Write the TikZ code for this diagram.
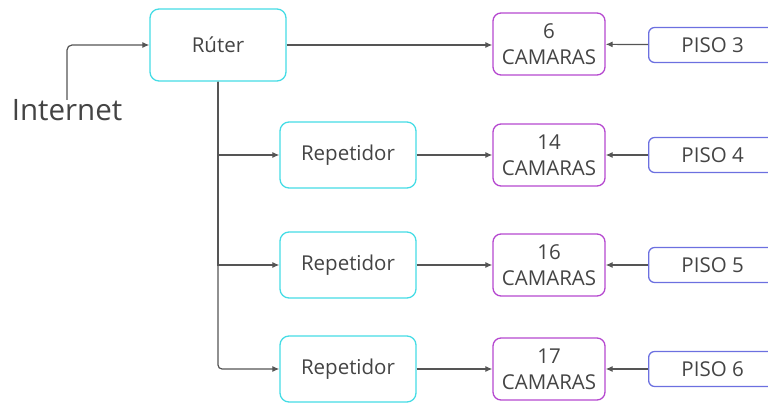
\documentclass[tikz,border=0pt]{standalone}
\usepackage{fontspec}
\setmainfont{Open Sans}
\usetikzlibrary{arrows.meta}
\definecolor{redcian}{HTML}{45DCE5}
\definecolor{cammorado}{HTML}{B548CF}
\definecolor{pisoazul}{HTML}{6C70E0}
\definecolor{linea}{HTML}{555555}
\definecolor{texto}{HTML}{444444}
\tikzset{
  caja/.style={draw, rounded corners=9pt, line width=1.3pt, text=texto,
    font=\fontsize{20.5}{26}\selectfont, align=center, inner sep=0pt},
  redbox/.style={caja, draw=redcian},
  cambox/.style={caja, draw=cammorado, rounded corners=8pt, minimum width=112pt, minimum height=62pt},
  pisobox/.style={caja, draw=pisoazul, rounded corners=6pt, minimum width=140pt, minimum height=35pt},
  flecha/.style={draw=linea, line width=1.2pt, -{Latex[length=7pt,width=6pt]}},
}
\begin{document}
\begin{tikzpicture}[x=1pt,y=-1pt]
\useasboundingbox (0,0) rectangle (768,403);
\clip (0,0) rectangle (768,403);

\node[text=texto, font=\fontsize{29.5}{31}\selectfont] (inet) at (67,110) {Internet};
\node[redbox, minimum width=136pt, minimum height=72pt] (ruter) at (218,45) {Rúter};

\node[redbox, minimum width=136pt, minimum height=66pt] (rep1) at (348,155) {Repetidor};
\node[redbox, minimum width=136pt, minimum height=66pt] (rep2) at (348,265) {Repetidor};
\node[redbox, minimum width=136pt, minimum height=66pt] (rep3) at (348,369) {Repetidor};

\node[cambox] (cam1) at (549,44) {6\\CAMARAS};
\node[cambox] (cam2) at (549,155) {14\\CAMARAS};
\node[cambox] (cam3) at (549,265) {16\\CAMARAS};
\node[cambox] (cam4) at (549,369) {17\\CAMARAS};

\node[pisobox, anchor=west] (piso3) at (648,45) {\hspace*{-12pt}PISO 3};
\node[pisobox, anchor=west] (piso4) at (648,155) {\hspace*{-12pt}PISO 4};
\node[pisobox, anchor=west] (piso5) at (648,265) {\hspace*{-12pt}PISO 5};
\node[pisobox, anchor=west] (piso6) at (648,369) {\hspace*{-12pt}PISO 6};

% conexiones
\draw[flecha, rounded corners=5pt] ([yshift=-4pt]inet.north) |- (ruter.west);
\draw[flecha] (ruter.east) -- (ruter.east -| cam1.west);
\draw[flecha] (ruter.south) |- (rep1.west);
\draw[flecha] (ruter.south) |- (rep2.west);
\draw[flecha, rounded corners=4pt] (ruter.south) |- (rep3.west);

\draw[flecha] (rep1) -- (cam2);
\draw[flecha] (rep2) -- (cam3);
\draw[flecha] (rep3) -- (cam4);

\draw[flecha] (piso3) -- (cam1);
\draw[flecha] (piso4) -- (cam2);
\draw[flecha] (piso5) -- (cam3);
\draw[flecha] (piso6) -- (cam4);
\end{tikzpicture}
\end{document}
